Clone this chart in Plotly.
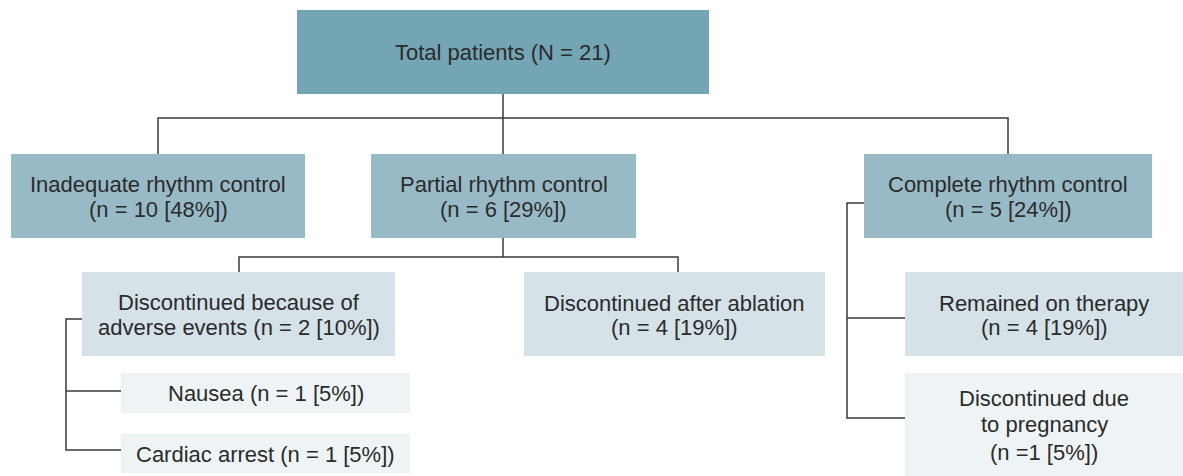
import plotly.graph_objects as go

# ---- data ----
node_names = ["Total patients", "Inadequate rhythm control", "Partial rhythm control",
              "Complete rhythm control", "Discontinued because of adverse events",
              "Discontinued after ablation", "Nausea", "Cardiac arrest",
              "Remained on therapy", "Discontinued due to pregnancy"]
node_counts = [21, 10, 6, 5, 2, 4, 1, 1, 4, 1]
node_percents = [None, 48, 29, 24, 10, 19, 5, 5, 19, 5]
node_levels = [0, 1, 1, 1, 2, 2, 3, 3, 2, 3]

# ---- layout (pixel space) ----
W, H = 1183, 476
boxes = [  # x0, y0, x1, y1
    (297, 10, 709, 94),
    (11, 154, 305, 238),
    (371, 154, 636, 238),
    (864, 154, 1152, 238),
    (82, 272, 395, 356),
    (524, 272, 825, 356),
    (121, 373, 410, 413),
    (121, 434, 410, 473),
    (905, 272, 1183, 356),
    (905, 373, 1183, 476),
]
level_colors = ["#74A5B5", "#98BAC7", "#D5E2E8", "#EEF4F5"]


def stat(i):
    if node_percents[i] is None:
        return f"(N = {node_counts[i]})"
    return f"(n = {node_counts[i]} [{node_percents[i]}%])"


# text lines per node with baselines
text_lines = [
    [(f"{node_names[0]} {stat(0)}", 60.5)],
    [(node_names[1], 192.2), (stat(1), 216.9)],
    [(node_names[2], 192.2), (stat(2), 216.9)],
    [(node_names[3], 192.2), (stat(3), 216.9)],
    [("Discontinued because of", 310), (f"adverse events {stat(4)}", 334.7)],
    [(node_names[5], 310.8), (stat(5), 335.5)],
    [(f"{node_names[6]} {stat(6)}", 401)],
    [(f"{node_names[7]} {stat(7)}", 462)],
    [(node_names[8], 310.8), (stat(8), 335.5)],
    [("Discontinued due", 406.5), ("to pregnancy", 432),
     (f"(n ={node_counts[9]} [{node_percents[9]}%])", 460)],
]

connectors = [  # polylines
    [(503, 94), (503, 154)],
    [(158, 154), (158, 118), (1008, 118), (1008, 154)],
    [(503, 238), (503, 257)],
    [(239, 272), (239, 257), (678, 257), (678, 272)],
    [(82, 319), (66, 319), (66, 450), (121, 450)],
    [(66, 391), (121, 391)],
    [(864, 203), (847, 203), (847, 418), (905, 418)],
    [(847, 318), (905, 318)],
]

FS = 22
FONT = "Liberation Sans, Arial, sans-serif"

fig = go.Figure()
shapes = []
for i, (x0, y0, x1, y1) in enumerate(boxes):
    shapes.append(dict(type="rect", x0=x0, y0=y0, x1=x1, y1=y1, xref="x", yref="y",
                       fillcolor=level_colors[node_levels[i]], line=dict(width=0),
                       layer="below"))
for pts in connectors:
    path = "M " + " L ".join(f"{x},{y}" for x, y in pts)
    shapes.append(dict(type="path", path=path, xref="x", yref="y",
                       line=dict(color="#3a3a3a", width=1.5)))

annotations = []
for i, lines in enumerate(text_lines):
    x0, y0, x1, y1 = boxes[i]
    cx = (x0 + x1) / 2
    for txt, base in lines:
        annotations.append(dict(x=cx, y=base - 0.35 * FS, xref="x", yref="y",
                                text=txt, showarrow=False, xanchor="center",
                                yanchor="middle", borderpad=0,
                                font=dict(family=FONT, size=FS, color="#2b2b2b")))

fig.update_layout(
    width=W, height=H, margin=dict(l=0, r=0, t=0, b=0),
    paper_bgcolor="white", plot_bgcolor="white",
    xaxis=dict(range=[0, W], visible=False, fixedrange=True),
    yaxis=dict(range=[H, 0], visible=False, fixedrange=True),
    shapes=shapes, annotations=annotations, showlegend=False,
)
fig.add_trace(go.Scatter(x=[0, W], y=[0, H], mode="markers",
                         marker=dict(opacity=0), hoverinfo="skip"))
fig.write_html("out.html", config={"displayModeBar": False},
               post_script="document.body.style.margin='0';document.body.style.overflow='hidden';")
